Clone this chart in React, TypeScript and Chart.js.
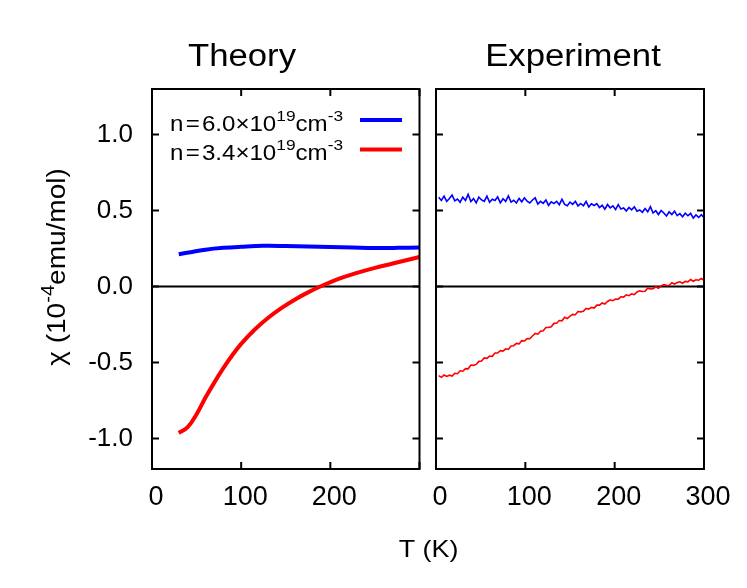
import React, { useEffect, useRef } from 'react';
import { Chart, registerables } from 'chart.js';
Chart.register(...registerables);

const X_TICKS = [0, 100, 200, 300];
const Y_TICKS = [-1.0, -0.5, 0.0, 0.5, 1.0];

const theoryBlueT = [30, 45, 60, 80, 100, 125, 150, 175, 200, 225, 250, 275, 300];
const theoryBlue = [0.213, 0.228, 0.243, 0.255, 0.262, 0.268, 0.267, 0.264, 0.26, 0.257, 0.254, 0.255, 0.258];
const theoryRedT = [30, 40, 50, 60, 70, 80, 90, 100, 115, 130, 145, 160, 175, 190, 210, 230, 250, 270, 300];
const theoryRed = [-0.963, -0.925, -0.84, -0.73, -0.63, -0.537, -0.452, -0.377, -0.284, -0.207, -0.142, -0.086, -0.038, 0.004, 0.052, 0.09, 0.123, 0.152, 0.195];

const expT = [3, 6, 9, 12, 15, 18, 21, 24, 27, 30, 33, 36, 39, 42, 45, 48, 51, 54, 57, 60,
  63, 66, 69, 72, 75, 78, 81, 84, 87, 90, 93, 96, 99, 102, 105, 108, 111, 114, 117, 120,
  123, 126, 129, 132, 135, 138, 141, 144, 147, 150, 153, 156, 159, 162, 165, 168, 171, 174, 177, 180,
  183, 186, 189, 192, 195, 198, 201, 204, 207, 210, 213, 216, 219, 222, 225, 228, 231, 234, 237, 240,
  243, 246, 249, 252, 255, 258, 261, 264, 267, 270, 273, 276, 279, 282, 285, 288, 291, 294, 297, 300];
const expBlue = [
  0.588, 0.567, 0.595, 0.56, 0.579, 0.602, 0.564, 0.576, 0.555, 0.588,
  0.567, 0.607, 0.56, 0.579, 0.551, 0.589, 0.57, 0.561, 0.595, 0.555,
  0.575, 0.566, 0.59, 0.551, 0.578, 0.561, 0.597, 0.556, 0.568, 0.55,
  0.58, 0.558, 0.584, 0.562, 0.55, 0.57, 0.584, 0.543, 0.561, 0.548,
  0.57, 0.534, 0.558, 0.546, 0.561, 0.538, 0.574, 0.541, 0.532, 0.556,
  0.541, 0.561, 0.531, 0.547, 0.532, 0.56, 0.523, 0.545, 0.534, 0.546,
  0.52, 0.535, 0.509, 0.54, 0.518, 0.531, 0.507, 0.54, 0.51, 0.518,
  0.498, 0.521, 0.505, 0.525, 0.496, 0.504, 0.489, 0.514, 0.492, 0.526,
  0.484, 0.499, 0.474, 0.501, 0.484, 0.465, 0.492, 0.474, 0.496, 0.467,
  0.48, 0.46, 0.483, 0.466, 0.482, 0.451, 0.471, 0.455, 0.473, 0.453];
const expRed = [
  -0.586, -0.597, -0.582, -0.591, -0.583, -0.589, -0.57, -0.573, -0.554, -0.557,
  -0.54, -0.541, -0.516, -0.518, -0.512, -0.492, -0.49, -0.469, -0.472, -0.457,
  -0.459, -0.437, -0.437, -0.421, -0.424, -0.409, -0.413, -0.391, -0.389, -0.374,
  -0.377, -0.356, -0.358, -0.342, -0.343, -0.325, -0.308, -0.313, -0.294, -0.29,
  -0.269, -0.268, -0.264, -0.242, -0.241, -0.223, -0.225, -0.202, -0.21, -0.194,
  -0.183, -0.185, -0.164, -0.166, -0.163, -0.144, -0.148, -0.137, -0.141, -0.122,
  -0.122, -0.108, -0.115, -0.098, -0.087, -0.093, -0.082, -0.083, -0.067, -0.069,
  -0.054, -0.06, -0.048, -0.053, -0.035, -0.028, -0.032, -0.031, -0.01, -0.015,
  -0.014, -0.001, -0.011, 0.005, 0.013, 0.008, 0.007, 0.025, 0.017, 0.027,
  0.032, 0.022, 0.034, 0.031, 0.046, 0.035, 0.045, 0.042, 0.053, 0.042];

const FONT = "'Liberation Sans', Arial, Helvetica, sans-serif";
const W = 747;
const H = 588;
const SX = 1.12;

type Seg = { t?: string; sup?: boolean; gap?: number };

function drawRich(ctx: CanvasRenderingContext2D, segs: Seg[], x: number, y: number, size: number, align: 'left' | 'center', rotate = 0) {
  ctx.save();
  ctx.translate(x, y);
  if (rotate) ctx.rotate(rotate);
  ctx.scale(SX, 1);
  ctx.fillStyle = '#000';
  ctx.textBaseline = 'alphabetic';
  ctx.textAlign = 'left';
  const supSize = size * 0.72;
  let w = 0;
  for (const s of segs) {
    if (s.gap) { w += s.gap; continue; }
    ctx.font = `${s.sup ? supSize : size}px ${FONT}`;
    w += ctx.measureText(s.t || '').width;
  }
  let cx = align === 'center' ? -w / 2 : 0;
  for (const s of segs) {
    if (s.gap) { cx += s.gap; continue; }
    ctx.font = `${s.sup ? supSize : size}px ${FONT}`;
    ctx.fillText(s.t || '', cx, s.sup ? -size * 0.45 : 0);
    cx += ctx.measureText(s.t || '').width;
  }
  ctx.restore();
}

function framePlugin(id: string, drawText: (ctx: CanvasRenderingContext2D) => void) {
  return {
    id,
    beforeDatasetsDraw(chart: any) {
      const { ctx, chartArea } = chart;
      const y0 = chart.scales.y.getPixelForValue(0);
      ctx.save();
      ctx.strokeStyle = '#000';
      ctx.lineWidth = 2;
      ctx.beginPath();
      ctx.moveTo(chartArea.left, y0);
      ctx.lineTo(chartArea.right, y0);
      ctx.stroke();
      ctx.restore();
    },
    afterDraw(chart: any) {
      const { ctx, chartArea } = chart;
      const xs = chart.scales.x;
      const ys = chart.scales.y;
      const tl = 7;
      ctx.save();
      ctx.strokeStyle = '#000';
      ctx.lineWidth = 2;
      ctx.beginPath();
      for (const v of X_TICKS) {
        const px = xs.getPixelForValue(v);
        ctx.moveTo(px, chartArea.bottom);
        ctx.lineTo(px, chartArea.bottom - tl);
        ctx.moveTo(px, chartArea.top);
        ctx.lineTo(px, chartArea.top + tl);
      }
      for (const v of Y_TICKS) {
        const py = ys.getPixelForValue(v);
        ctx.moveTo(chartArea.left, py);
        ctx.lineTo(chartArea.left + tl, py);
        ctx.moveTo(chartArea.right, py);
        ctx.lineTo(chartArea.right - tl, py);
      }
      ctx.stroke();
      ctx.strokeRect(chartArea.left, chartArea.top, chartArea.right - chartArea.left, chartArea.bottom - chartArea.top);
      ctx.restore();
      drawText(ctx);
    },
  };
}

function xScale(hide300: boolean) {
  return {
    type: 'linear',
    min: 0,
    max: 300,
    grid: { display: false, drawTicks: false },
    border: { display: false },
    afterFit: (s: any) => { s.height = H - 469; },
    afterBuildTicks: (s: any) => { s.ticks = X_TICKS.map((v) => ({ value: v })); },
    ticks: {
      padding: 12,
      labelOffset: 4,
      color: '#000',
      font: { family: FONT, size: 27 },
      maxRotation: 0,
      autoSkip: false,
      callback: (v: any) => (hide300 && Number(v) === 300 ? '' : String(v)),
    },
  };
}

export default function App() {
  const leftRef = useRef<HTMLCanvasElement>(null);
  const rightRef = useRef<HTMLCanvasElement>(null);

  useEffect(() => {
    const left = new Chart(leftRef.current as HTMLCanvasElement, {
      type: 'line',
      data: {
        datasets: [
          {
            data: theoryBlueT.map((t, i) => ({ x: t, y: theoryBlue[i] })),
            borderColor: '#0000ff',
            borderWidth: 4,
            pointRadius: 0,
            tension: 0.4,
          },
          {
            data: theoryRedT.map((t, i) => ({ x: t, y: theoryRed[i] })),
            borderColor: '#ff0000',
            borderWidth: 4,
            pointRadius: 0,
            tension: 0.4,
          },
        ],
      },
      options: {
        animation: false,
        responsive: false,
        devicePixelRatio: 1,
        layout: { padding: { left: 0, right: W - 419.5, top: 89, bottom: 0 } },
        plugins: { legend: { display: false }, tooltip: { enabled: false }, title: { display: false } },
        scales: {
          x: xScale(true) as any,
          y: {
            type: 'linear',
            min: -1.2,
            max: 1.3,
            grid: { display: false, drawTicks: false },
            border: { display: false },
            afterFit: (s: any) => { s.width = 152; },
            afterBuildTicks: (s: any) => { s.ticks = Y_TICKS.map((v) => ({ value: v })); },
            ticks: {
              padding: 19,
              color: '#000',
              font: { family: FONT, size: 26 },
              callback: (v: any) => Number(v).toFixed(1),
            },
          },
        },
      },
      plugins: [
        framePlugin('leftFrame', (ctx) => {
          drawRich(ctx, [{ t: 'Theory' }], 242, 66, 31, 'center');
          drawRich(ctx, [{ t: 'χ (10' }, { t: '-4', sup: true }, { t: 'emu/mol)' }], 65, 267, 25, 'center', -Math.PI / 2);
          drawRich(ctx, [{ t: 'n' }, { gap: 2 }, { t: '=' }, { gap: 2 }, { t: '6.0×10' }, { t: '19', sup: true }, { t: 'cm' }, { t: '-3', sup: true }], 170, 130.5, 21.5, 'left');
          drawRich(ctx, [{ t: 'n' }, { gap: 2 }, { t: '=' }, { gap: 2 }, { t: '3.4×10' }, { t: '19', sup: true }, { t: 'cm' }, { t: '-3', sup: true }], 170, 159.5, 21.5, 'left');
          ctx.save();
          ctx.lineWidth = 4;
          ctx.strokeStyle = '#0000ff';
          ctx.beginPath();
          ctx.moveTo(360, 120);
          ctx.lineTo(402, 120);
          ctx.stroke();
          ctx.strokeStyle = '#ff0000';
          ctx.beginPath();
          ctx.moveTo(360, 149.5);
          ctx.lineTo(402, 149.5);
          ctx.stroke();
          ctx.restore();
        }),
      ],
    } as any);

    const right = new Chart(rightRef.current as HTMLCanvasElement, {
      type: 'line',
      data: {
        datasets: [
          {
            data: expT.map((t, i) => ({ x: t, y: expBlue[i] })),
            borderColor: '#0000ff',
            borderWidth: 1.6,
            pointRadius: 0,
            tension: 0,
          },
          {
            data: expT.map((t, i) => ({ x: t, y: expRed[i] })),
            borderColor: '#ff0000',
            borderWidth: 1.6,
            pointRadius: 0,
            tension: 0,
          },
        ],
      },
      options: {
        animation: false,
        responsive: false,
        devicePixelRatio: 1,
        layout: { padding: { left: 436, right: W - 704, top: 89, bottom: 0 } },
        plugins: { legend: { display: false }, tooltip: { enabled: false }, title: { display: false } },
        scales: {
          x: xScale(false) as any,
          y: {
            type: 'linear',
            min: -1.2,
            max: 1.3,
            display: false,
          },
        },
      },
      plugins: [
        framePlugin('rightFrame', (ctx) => {
          drawRich(ctx, [{ t: 'Experiment' }], 573, 66, 31, 'center');
          drawRich(ctx, [{ t: 'T (K)' }], 428.5, 557, 24, 'center');
        }),
      ],
    } as any);

    return () => {
      left.destroy();
      right.destroy();
    };
  }, []);

  const cs: React.CSSProperties = { position: 'absolute', left: 0, top: 0, display: 'block' };
  return (
    <div style={{ position: 'absolute', left: 0, top: 0, width: W, height: H, background: '#fff' }}>
      <canvas ref={leftRef} width={W} height={H} style={cs} />
      <canvas ref={rightRef} width={W} height={H} style={cs} />
    </div>
  );
}
